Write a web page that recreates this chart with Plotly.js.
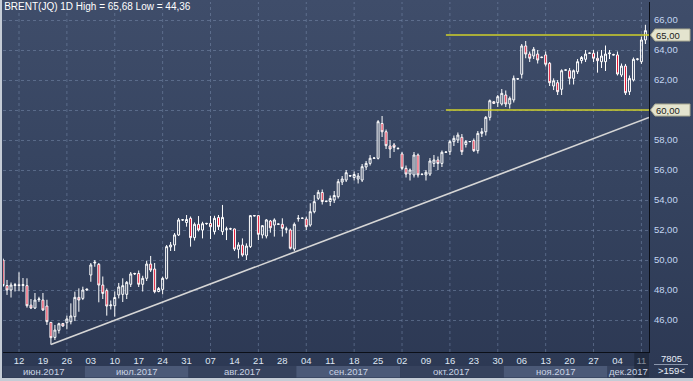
<!DOCTYPE html>
<html><head><meta charset="utf-8">
<script src="https://cdn.plot.ly/plotly-3.0.1.min.js"></script>
<style>
html,body{margin:0;padding:0;background:#2c3853;}
#wrap{position:relative;width:693px;height:381px;overflow:hidden;background:linear-gradient(to bottom,#3f4d6a 0%,#35435f 50%,#2c3853 100%);}
#chart{position:absolute;left:0;top:0;width:693px;height:381px;}
#frameL{position:absolute;left:0;top:0;width:2px;height:381px;background:#c5ccd6;}
#frameB{position:absolute;left:0;bottom:0;width:693px;height:3px;background:#c5ccd6;}
</style></head><body>
<div id="wrap"><div id="chart"></div><div id="frameL"></div><div id="frameB"></div></div>
<script>
const dates = ["2017-06-07","2017-06-08","2017-06-09","2017-06-11","2017-06-12","2017-06-13","2017-06-14","2017-06-15","2017-06-16","2017-06-18","2017-06-19","2017-06-20","2017-06-21","2017-06-22","2017-06-23","2017-06-25","2017-06-26","2017-06-27","2017-06-28","2017-06-29","2017-06-30","2017-07-02","2017-07-03","2017-07-04","2017-07-05","2017-07-06","2017-07-07","2017-07-09","2017-07-10","2017-07-11","2017-07-12","2017-07-13","2017-07-14","2017-07-16","2017-07-17","2017-07-18","2017-07-19","2017-07-20","2017-07-21","2017-07-23","2017-07-24","2017-07-25","2017-07-26","2017-07-27","2017-07-28","2017-07-30","2017-07-31","2017-08-01","2017-08-02","2017-08-03","2017-08-04","2017-08-06","2017-08-07","2017-08-08","2017-08-09","2017-08-10","2017-08-11","2017-08-13","2017-08-14","2017-08-15","2017-08-16","2017-08-17","2017-08-18","2017-08-20","2017-08-21","2017-08-22","2017-08-23","2017-08-24","2017-08-25","2017-08-27","2017-08-28","2017-08-29","2017-08-30","2017-08-31","2017-09-01","2017-09-03","2017-09-04","2017-09-05","2017-09-06","2017-09-07","2017-09-08","2017-09-10","2017-09-11","2017-09-12","2017-09-13","2017-09-14","2017-09-15","2017-09-17","2017-09-18","2017-09-19","2017-09-20","2017-09-21","2017-09-22","2017-09-24","2017-09-25","2017-09-26","2017-09-27","2017-09-28","2017-09-29","2017-10-01","2017-10-02","2017-10-03","2017-10-04","2017-10-05","2017-10-06","2017-10-08","2017-10-09","2017-10-10","2017-10-11","2017-10-12","2017-10-13","2017-10-15","2017-10-16","2017-10-17","2017-10-18","2017-10-19","2017-10-20","2017-10-22","2017-10-23","2017-10-24","2017-10-25","2017-10-26","2017-10-27","2017-10-29","2017-10-30","2017-10-31","2017-11-01","2017-11-02","2017-11-03","2017-11-05","2017-11-06","2017-11-07","2017-11-08","2017-11-09","2017-11-10","2017-11-12","2017-11-13","2017-11-14","2017-11-15","2017-11-16","2017-11-17","2017-11-19","2017-11-20","2017-11-21","2017-11-22","2017-11-23","2017-11-24","2017-11-26","2017-11-27","2017-11-28","2017-11-29","2017-11-30","2017-12-01","2017-12-03","2017-12-04","2017-12-05","2017-12-06","2017-12-07","2017-12-08","2017-12-10","2017-12-11","2017-12-12"];
const open  = [50.00,48.30,48.00,48.30,48.35,48.30,48.29,46.99,46.80,47.35,47.33,46.93,45.84,44.84,45.31,45.77,45.82,45.89,46.22,47.51,47.44,48.00,49.00,49.80,49.71,48.33,47.96,46.95,46.95,47.67,47.71,47.71,48.38,49.07,49.10,48.38,48.78,49.73,49.40,47.90,48.04,48.78,50.87,51.00,51.67,52.67,52.50,52.78,51.49,52.38,52.00,52.42,52.44,51.89,52.84,51.89,52.05,52.07,52.07,50.71,51.00,50.33,50.89,52.96,52.96,51.67,51.60,52.60,52.33,52.38,52.38,52.05,52.00,50.73,52.75,52.78,52.73,52.33,53.22,54.11,54.50,53.90,53.90,54.00,54.22,55.20,55.33,55.60,55.50,55.40,55.33,56.20,56.44,56.78,56.78,59.10,58.55,57.60,57.67,57.45,57.07,56.11,55.73,55.67,57.00,55.70,55.67,55.73,56.44,56.67,56.44,57.18,57.22,57.89,58.00,58.18,57.70,57.89,57.96,57.29,58.44,58.55,59.51,60.55,60.49,60.40,61.00,60.40,60.67,62.07,62.38,64.27,63.73,63.60,63.73,63.50,63.67,63.11,61.60,61.82,61.38,62.67,62.62,62.11,62.55,63.30,63.38,63.78,63.78,63.45,63.22,63.22,63.75,63.70,63.67,62.33,62.93,61.22,62.00,63.38,63.22,64.67];
const high  = [50.10,48.67,48.50,48.47,49.18,48.80,48.78,47.40,47.80,47.55,47.80,47.35,45.84,45.67,45.82,45.80,46.29,47.11,47.89,48.11,48.22,48.10,49.80,50.00,49.80,48.90,48.10,47.30,47.90,48.47,48.78,48.60,49.20,49.15,49.30,48.95,49.95,50.27,49.80,48.20,48.89,51.00,51.20,51.80,52.80,52.72,53.00,52.90,52.50,52.93,52.55,52.47,52.94,52.95,53.00,53.67,52.22,52.15,52.10,51.18,51.44,51.11,53.00,53.00,52.96,52.33,52.73,52.67,52.78,52.42,52.78,52.22,52.10,52.50,53.00,52.82,52.89,53.78,54.33,54.67,54.70,53.95,54.30,54.60,55.40,55.60,56.00,55.65,55.90,55.80,56.40,56.60,57.00,56.85,59.33,59.60,58.70,58.00,57.80,57.50,57.20,56.30,56.10,57.20,57.10,55.75,56.00,56.80,57.00,56.90,57.30,57.22,58.00,58.30,58.50,58.40,58.00,57.93,58.10,58.60,58.80,59.60,60.70,60.60,61.00,61.40,61.30,60.90,62.30,62.12,64.40,64.60,63.90,64.20,64.00,63.55,63.90,63.20,62.11,62.00,62.71,62.70,62.80,62.70,63.40,63.60,64.00,63.82,64.00,63.90,64.00,64.30,64.00,63.75,63.90,63.10,63.07,62.30,63.50,63.45,64.90,65.68];
const low   = [48.20,47.67,47.50,47.90,47.93,47.87,46.82,46.73,46.73,47.20,46.60,45.67,44.36,44.67,45.10,45.55,45.38,45.71,45.93,46.55,47.33,47.95,48.55,49.55,47.18,47.40,46.29,46.70,46.22,47.44,47.20,47.40,48.20,49.00,48.20,47.90,48.60,49.20,47.78,47.85,47.71,48.70,50.60,50.60,51.60,52.60,52.22,50.89,51.30,51.90,51.44,52.35,51.40,51.70,52.00,51.67,51.33,52.00,50.60,50.11,50.22,50.00,50.80,52.90,51.33,51.44,51.44,51.82,51.56,52.35,51.56,51.78,50.70,50.60,52.56,52.74,52.00,52.22,53.11,54.00,53.70,53.85,53.60,53.80,54.10,55.00,55.20,55.55,55.30,55.10,55.20,56.00,56.30,56.75,56.70,58.20,57.40,56.80,57.20,57.40,56.00,55.50,55.30,55.50,55.50,55.65,55.30,55.60,56.20,56.00,56.20,57.15,57.00,57.60,57.80,57.00,57.50,57.85,57.20,57.10,58.20,58.30,59.30,60.40,60.20,60.30,60.20,60.10,60.50,62.02,62.10,63.45,63.20,63.40,63.10,63.45,62.90,61.60,61.33,61.00,61.00,62.62,61.70,61.70,62.40,63.10,63.20,63.74,63.20,62.49,62.80,62.60,63.40,63.65,62.30,62.20,61.00,61.00,61.90,63.30,63.07,64.40];
const close = [48.30,48.00,48.33,48.35,48.30,48.36,46.95,46.80,47.33,47.40,46.67,45.89,44.82,45.33,45.75,45.60,46.07,46.27,47.51,47.33,48.00,48.05,49.67,49.85,48.33,47.77,46.93,47.00,47.50,48.20,48.29,48.51,49.07,49.10,48.38,48.78,49.73,49.33,47.89,48.10,48.78,50.89,51.00,51.67,52.67,52.68,52.70,51.49,52.38,52.00,52.42,52.44,52.22,52.78,52.22,52.84,52.07,52.08,50.73,51.00,50.33,50.93,52.96,52.95,51.71,52.29,52.67,52.15,52.67,52.40,52.11,52.07,50.78,52.38,52.78,52.79,52.22,53.22,53.89,54.51,53.90,53.92,54.10,54.30,55.22,55.40,55.82,55.62,55.70,55.60,56.22,56.44,56.78,56.80,59.22,58.55,57.62,57.40,57.51,57.42,56.11,55.73,56.00,57.00,55.67,55.72,55.85,56.60,56.67,56.44,57.18,57.20,57.89,58.11,58.33,57.22,57.89,57.90,57.29,58.44,58.55,59.51,60.62,60.44,60.89,61.11,60.40,60.78,62.11,62.08,64.27,63.73,63.45,64.05,63.33,63.52,63.05,61.82,61.95,61.22,62.62,62.66,62.11,62.62,63.22,63.50,63.73,63.79,63.45,63.29,63.60,63.73,63.80,63.67,62.40,62.93,61.15,62.11,63.38,63.40,64.67,65.29];

const tickDates  = ["2017-06-12","2017-06-19","2017-06-26","2017-07-03","2017-07-10","2017-07-17","2017-07-24","2017-07-31","2017-08-07","2017-08-14","2017-08-21","2017-08-28","2017-09-04","2017-09-11","2017-09-18","2017-09-25","2017-10-02","2017-10-09","2017-10-16","2017-10-23","2017-10-30","2017-11-06","2017-11-13","2017-11-20","2017-11-27","2017-12-04","2017-12-11"];
const tickLabels = ["12","19","26","03","10","17","24","31","07","14","21","28","04","11","18","25","02","09","16","23","30","06","13","20","27","04","11"];
const priceTicks = [46,48,50,52,54,56,58,60,62,64,66];
const gridDates  = ["2017-06-12","2017-06-26","2017-07-10","2017-07-24","2017-08-07","2017-08-21","2017-09-04","2017-09-18","2017-10-02","2017-10-16","2017-10-30","2017-11-13","2017-11-27","2017-12-11"];
const monthStarts = ["2017-06-07","2017-07-02","2017-08-01","2017-09-01","2017-10-02","2017-11-01","2017-12-01"];
const monthLabels = ["июн.2017","июл.2017","авг.2017","сен.2017","окт.2017","ноя.2017","дек.2017"];
const levels = [65, 60];
const levelStartDate = "2017-10-15";
const trendDates = ["2017-06-21","2017-12-12"];
const trendPrices = [44.36, 59.41];
const footerTop = "7805";
const footerBottom = ">159<";
const currentDate = "2017-12-11";

const idx = d => dates.indexOf(d);
const xs = dates.map((d,i)=>i);
const xRange = [-0.01, 161.9];
const yRange = [43.867, 67.2];
const fmt = v => v.toFixed(2).replace('.', ',');
const hi = Math.max(...high), lo = Math.min(...low);

const W=693, H=381, mL=3, mR=44, mT=2, mB=29;
const pw = W-mL-mR, ph = H-mT-mB;
const px2paperX = p => (p-mL)/pw;
const px2paperY = p => (H-mB-p)/ph;
const FONT = 'Liberation Sans, Arial, sans-serif';

const shapes = [];
const annotations = [];
gridDates.forEach(d=>{
  shapes.push({type:'line',layer:'below',xref:'x',yref:'paper',x0:idx(d),x1:idx(d),y0:0,y1:1,
    line:{color:'rgba(130,150,185,0.45)',width:1,dash:'3px,3px'}});
});
const bandDark='#36425d', bandLight='#4b5977';
monthStarts.forEach((d,i)=>{
  const a = Math.max(idx(d)-0.5, xRange[0]);
  const b = i<monthStarts.length-1 ? idx(monthStarts[i+1])-0.5 : xRange[1];
  shapes.push({type:'rect',xref:'x',yref:'paper',x0:a,x1:b,y0:px2paperY(366),y1:px2paperY(377.5),
    fillcolor: i%2? bandLight: bandDark, line:{width:0}, layer:'above'});
  annotations.push({xref:'x',yref:'paper',x:(a+b)/2,y:px2paperY(371.5),text:monthLabels[i],showarrow:false,
    xanchor:'center',yanchor:'middle',font:{family:FONT,size:9.5,color:'#c9d2e4'}});
});
shapes.push({type:'rect',xref:'x',yref:'paper',x0:idx(currentDate)-1.8,x1:xRange[1],y0:px2paperY(353),y1:px2paperY(377.5),
  fillcolor:'rgba(20,26,40,0.45)',line:{width:0},layer:'above'});
const slope = (trendPrices[1]-trendPrices[0])/(idx(trendDates[1])-idx(trendDates[0]));
const tx0 = idx(trendDates[0]);
shapes.push({type:'line',xref:'x',yref:'y',x0:tx0,y0:trendPrices[0],x1:xRange[1],y1:trendPrices[0]+slope*(xRange[1]-tx0),
  line:{color:'#d6d6d6',width:1.6}});
levels.forEach(v=>{
  shapes.push({type:'line',xref:'x',yref:'y',x0:idx(levelStartDate),x1:xRange[1],y0:v,y1:v,line:{color:'#cfcf2a',width:1.6}});
  const t = px2paperX(650.5), b0 = px2paperX(655), r = px2paperX(690);
  const hh = 6/15;
  shapes.push({type:'path',xref:'paper',yref:'y',path:`M ${t} ${v} L ${b0} ${v+hh} L ${r} ${v+hh} L ${r} ${v-hh} L ${b0} ${v-hh} Z`,
    fillcolor:'#e4e4cf',line:{color:'#a8a890',width:1}});
  annotations.push({xref:'paper',yref:'y',x:px2paperX(654),y:v,text:fmt(v),showarrow:false,xanchor:'left',yanchor:'middle',
    font:{family:FONT,size:9.5,color:'#1c1c1c'}});
});
annotations.push({xref:'paper',yref:'paper',x:px2paperX(671),y:px2paperY(358.5),text:footerTop,showarrow:false,xanchor:'center',yanchor:'middle',
  font:{family:FONT,size:9.5,color:'#e8eef8'}});
annotations.push({xref:'paper',yref:'paper',x:px2paperX(671),y:px2paperY(370.5),text:footerBottom,showarrow:false,xanchor:'center',yanchor:'middle',
  font:{family:FONT,size:9.5,color:'#e8eef8'}});
shapes.push({type:'line',xref:'paper',yref:'paper',x0:px2paperX(654),x1:px2paperX(688),y0:px2paperY(364.5),y1:px2paperY(364.5),line:{color:'#8a96ad',width:1}});

const trace = {
  type:'candlestick', x:xs, open:open, high:high, low:low, close:close,
  increasing:{line:{color:'#ffffff',width:1},fillcolor:'rgba(0,0,0,0)'},
  decreasing:{line:{color:'#ffffff',width:1},fillcolor:'#e3102e'},
  whiskerwidth:0, hoverinfo:'skip'
};

const layout = {
  width:W, height:H, margin:{l:mL,r:mR,t:mT,b:mB,pad:0},
  paper_bgcolor:'rgba(0,0,0,0)', plot_bgcolor:'rgba(0,0,0,0)',
  separators:', ', showlegend:false, hovermode:false, boxgap:0.3,
  title:{text:`BRENT(JQ) 1D High = ${fmt(hi)} Low = ${fmt(lo)}`, x:0.006, xanchor:'left', xref:'container', y:0.993, yanchor:'top', yref:'container',
    font:{family:FONT,size:10,color:'#ffffff'}, pad:{t:0,b:0,l:0,r:0}},
  xaxis:{type:'linear', range:xRange, tickmode:'array', tickvals:tickDates.map(idx), ticktext:tickLabels,
    showgrid:false, zeroline:false, showline:true, linecolor:'#0b0f18', linewidth:1, ticks:'', rangeslider:{visible:false},
    tickfont:{family:FONT,size:9.5,color:'#dfe6f3'}, fixedrange:true},
  yaxis:{side:'right', range:yRange, tickmode:'array', tickvals:priceTicks,
    ticktext:priceTicks.map(v=>levels.includes(v)?'':fmt(v)),
    showgrid:true, gridcolor:'rgba(130,150,185,0.45)', griddash:'3px,3px',
    zeroline:false, showline:true, linecolor:'#0b0f18', linewidth:1, ticks:'', ticklabelstandoff:2,
    tickfont:{family:FONT,size:9.5,color:'#c4d6f2'}, fixedrange:true},
  shapes:shapes, annotations:annotations
};
Plotly.newPlot('chart',[trace],layout,{displayModeBar:false,staticPlot:true});
</script></body></html>
